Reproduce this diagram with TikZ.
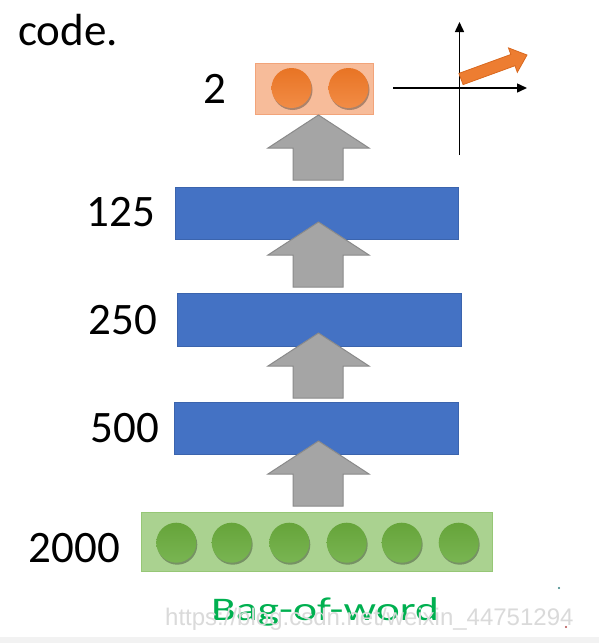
\documentclass[tikz,border=0pt]{standalone}
\usepackage{fontspec}
\setmainfont{Carlito}
\newfontfamily\wmfont{Liberation Sans}
\usetikzlibrary{arrows.meta,shadows}
\definecolor{barblue}{HTML}{4472C4}
\definecolor{baredge}{HTML}{3B64AD}
\definecolor{arrgray}{HTML}{A5A5A5}
\definecolor{arredge}{HTML}{8A8A8A}
\definecolor{orfill}{HTML}{F7BC9A}
\definecolor{oredge}{HTML}{F2A47A}
\definecolor{orctop}{HTML}{E87424}
\definecolor{orcbot}{HTML}{F28C46}
\definecolor{orarrow}{HTML}{ED7D31}
\definecolor{orarredge}{HTML}{D9681E}
\definecolor{grfill}{HTML}{AAD290}
\definecolor{gredge}{HTML}{96C776}
\definecolor{grctop}{HTML}{66A43A}
\definecolor{grcbot}{HTML}{79B552}
\definecolor{bowgreen}{HTML}{00B050}
\definecolor{wmgray}{HTML}{DADADA}
\definecolor{stripgray}{HTML}{F2F2F2}
\tikzset{
  lbl/.style={inner sep=0pt, font=\fontsize{45}{54}\selectfont, text=black},
  barbox/.style={rectangle, fill=barblue, draw=baredge, line width=1pt, inner sep=0pt},
  grayarrow/.style={fill=arrgray, draw=arredge, line width=1pt, line join=miter},
  orcircle/.style={circle, minimum size=40pt, inner sep=0pt, top color=orctop, bottom color=orcbot,
    drop shadow={shadow xshift=1pt, shadow yshift=-2pt, opacity=0.3, fill=black}},
  grcircle/.style={circle, minimum size=40pt, inner sep=0pt, top color=grctop, bottom color=grcbot,
    drop shadow={shadow xshift=1pt, shadow yshift=-2pt, opacity=0.3, fill=black}},
  axisline/.style={line width=1.5pt, black, -{Triangle[length=10pt,width=9pt]}},
}
\newcommand{\myblockarrow}[1]{%
  \filldraw[grayarrow] (318.5,#1) -- (369,#1+33) -- (343,#1+33) -- (343,#1+65)
    -- (293,#1+65) -- (293,#1+33) -- (268,#1+33) -- cycle;}
\begin{document}
\begin{tikzpicture}[x=1pt,y=-1pt]
\useasboundingbox (0,0) rectangle (599,643);
\fill[white] (0,0) rectangle (599,643);
\fill[stripgray] (0,637) rectangle (599,643);

% title fragment
\node[lbl, anchor=base west] (code) at (18,45) {code.};

% output layer
\node[rectangle, fill=orfill, draw=oredge, line width=1pt, minimum width=118pt, minimum height=51pt, inner sep=0pt] (outbox) at (314.5,88.5) {};
\node[orcircle] (o1) at (291.5,88) {};
\node[orcircle] (o2) at (348.5,88) {};
\node[lbl, anchor=east] (l2) at (227,88.5) {2};

% axes
\coordinate (hx0) at (393,88);
\coordinate (hx1) at (527,88);
\coordinate (vy0) at (459.5,155);
\coordinate (vy1) at (459.5,22);
\draw[axisline] (hx0) -- (hx1);
\draw[axisline] (vy0) -- (vy1);
\filldraw[fill=orarrow, draw=orarredge, line width=0.8pt, line join=miter]
  (458.9,73.4) -- (510.8,54.5) -- (508.5,47.9) -- (527,55) -- (517.3,72.3) -- (515.0,65.7) -- (463.1,84.6) -- cycle;

% hidden layers
\node[barbox, minimum width=283pt, minimum height=52pt] (b125) at (316.5,213) {};
\node[barbox, minimum width=284pt, minimum height=53pt] (b250) at (319,319.5) {};
\node[barbox, minimum width=284pt, minimum height=52pt] (b500) at (316,428) {};
\node[lbl, anchor=east] (l125) at (155,212.5) {125};
\node[lbl, anchor=east] (l250) at (157,320) {250};
\node[lbl, anchor=east] (l500) at (159,428.5) {500};

% input layer
\node[rectangle, fill=grfill, draw=gredge, line width=1pt, minimum width=351pt, minimum height=59pt, inner sep=0pt] (inbox) at (316.5,541.5) {};
\foreach \cx [count=\i] in {176.3,231.7,289.3,346.7,401.7,458.7}
  \node[grcircle] (g\i) at (\cx,542.7) {};
\node[lbl, anchor=east] (l2000) at (120,548) {2000};

% block arrows
\myblockarrow{115}
\myblockarrow{222}
\myblockarrow{333}
\myblockarrow{441}

% caption
\node[inner sep=0pt, anchor=base, text=bowgreen] (bow) at (325,620)
  {\scalebox{1.38}[1]{\fontsize{33}{40}\selectfont Bag-of-word}};

% watermark
\node[inner sep=0pt, anchor=base west, text=wmgray] (wm) at (165,625)
  {\wmfont\fontsize{24}{28}\selectfont https://blog.csdn.net/weixin\_44751294};

% specks
\fill[teal!60!gray] (559,588) circle (1.2pt);
\fill[red!40!gray] (566,627) circle (1.2pt);
\end{tikzpicture}
\end{document}
